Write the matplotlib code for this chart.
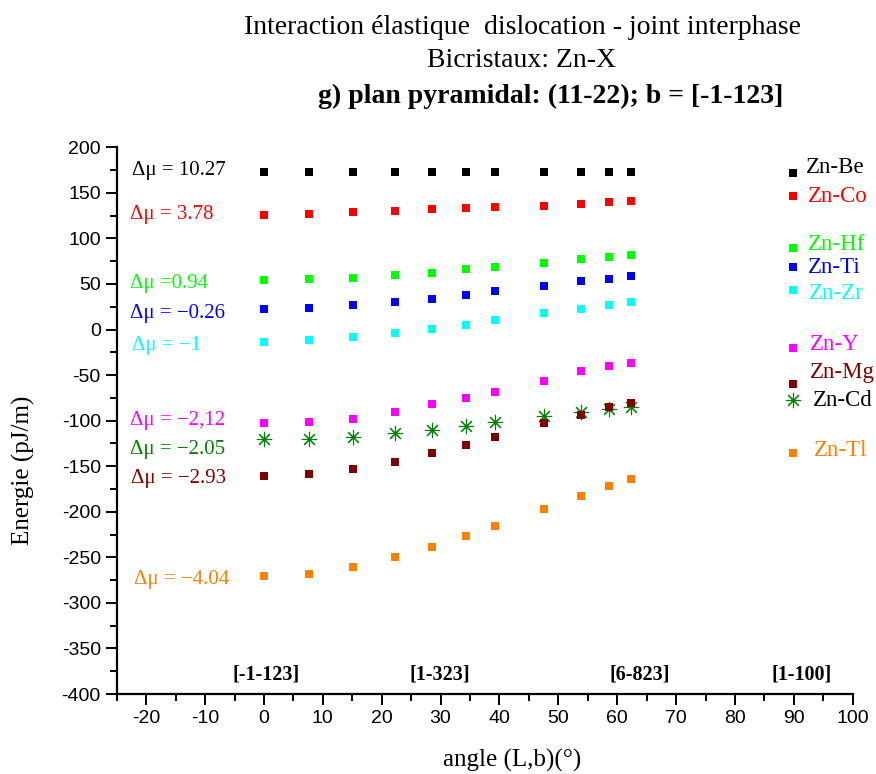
import matplotlib
matplotlib.use("Agg")
import matplotlib.pyplot as plt
from matplotlib.ticker import MultipleLocator

plt.rcParams["axes.unicode_minus"] = False

# Angle between dislocation line L and Burgers vector b (degrees)
angles = [0, 7.7, 15.2, 22.2, 28.6, 34.3, 39.3, 47.5, 53.8, 58.6, 62.4]

# Interaction energy (pJ/m) for each bicrystal Zn-X
zn_be = [173, 173, 173, 173, 173, 173, 173, 173, 173, 173, 173]
zn_co = [126, 127, 129, 130, 132, 133, 134, 136, 138, 140, 141]
zn_hf = [54, 55, 57, 60, 62.5, 66, 69, 73, 77, 80, 82]
zn_ti = [23, 24, 27, 30, 34, 38, 42, 48, 53, 56, 59]
zn_zr = [-14, -12, -8, -4, 1, 5.5, 10, 18, 23, 27, 30]
zn_y = [-103, -102, -98, -91, -82, -75, -68, -56, -46, -40, -37]
zn_cd = [-120.5, -120, -118, -114, -110, -106, -101, -95, -91, -87, -85]
zn_mg = [-161, -159, -153, -145.5, -136, -126.5, -118, -103, -93.5, -85.5, -80.5]
zn_tl = [-270, -268, -261, -250, -239, -227, -216, -197, -183, -171.5, -164.5]

series_names = ["Zn-Be", "Zn-Co", "Zn-Hf", "Zn-Ti", "Zn-Zr", "Zn-Y", "Zn-Mg", "Zn-Cd", "Zn-Tl"]
shear_labels = ["Δμ = 10.27", "Δμ = 3.78", "Δμ =0.94", "Δμ = −0.26", "Δμ = −1",
                "Δμ = −2,12", "Δμ = −2.93", "Δμ = −2.05", "Δμ = −4.04"]
direction_labels = ["[-1-123]", "[1-323]", "[6-823]", "[1-100]"]

SERIF = ["Liberation Serif", "DejaVu Serif"]
SANS = ["Liberation Sans", "DejaVu Sans"]

colors = {
    "Zn-Be": "#000000", "Zn-Co": "#ff0000", "Zn-Hf": "#00ff00", "Zn-Ti": "#0000ff",
    "Zn-Zr": "#00ffff", "Zn-Y": "#ff00ff", "Zn-Mg": "#800000", "Zn-Cd": "#008000",
    "Zn-Tl": "#ff8000",
}
values = {
    "Zn-Be": zn_be, "Zn-Co": zn_co, "Zn-Hf": zn_hf, "Zn-Ti": zn_ti, "Zn-Zr": zn_zr,
    "Zn-Y": zn_y, "Zn-Mg": zn_mg, "Zn-Cd": zn_cd, "Zn-Tl": zn_tl,
}

fig = plt.figure(figsize=(8.76, 7.74), dpi=100)
ax = fig.add_axes([0.1333, 0.1033, 0.8401, 0.7064])

asterisk = (8, 2, 0)
square_kw = dict(marker="s", markersize=5.6, markeredgewidth=0, linestyle="none")
star_kw = dict(marker=asterisk, markersize=11, markeredgewidth=0.8, linestyle="none")

for name in series_names:
    if name == "Zn-Cd":
        ax.plot(angles, values[name], color=colors[name], zorder=3, **star_kw)
    else:
        ax.plot(angles, values[name], color=colors[name], zorder=4 if name == "Zn-Mg" else 3,
                **square_kw)

# Axes styling
ax.set_xlim(-25, 100)
ax.set_ylim(-400, 200)
for side in ("top", "right"):
    ax.spines[side].set_visible(False)
for side in ("left", "bottom"):
    ax.spines[side].set_linewidth(1.6)
ax.xaxis.set_major_locator(MultipleLocator(10))
ax.xaxis.set_minor_locator(MultipleLocator(5))
ax.yaxis.set_major_locator(MultipleLocator(50))
ax.yaxis.set_minor_locator(MultipleLocator(25))
ax.tick_params(which="major", direction="out", length=8, width=1.4, labelsize=14)
ax.tick_params(which="minor", direction="out", length=5, width=1.4)
for lab in ax.get_xticklabels() + ax.get_yticklabels():
    lab.set_family(SANS)

fig.text(0.027, 0.392, "Energie (pJ/m)", rotation=90, ha="center", va="center",
         family=SERIF, fontsize=18)
fig.text(0.585, 0.018, "angle (L,b)(°)", ha="center", va="center",
         family=SERIF, fontsize=18)

# Titles
fig.text(0.596, 0.965, "Interaction élastique  dislocation - joint interphase",
         ha="center", va="center", family=SERIF, fontsize=20)
fig.text(0.595, 0.922, "Bicristaux: Zn-X", ha="center", va="center", family=SERIF, fontsize=20)
fig.text(0.629, 0.876, "g) plan pyramidal: (11-22); b = [-1-123]", ha="center", va="center",
         family=SERIF, fontsize=20, fontweight="bold")

# Shear modulus difference labels on the left
shear_pos = [174.5, 126.5, 51, 18, -17, -100, -163, -131.5, -274]
shear_x = [-22.4, -22.8, -22.8, -22.8, -22.4, -22.8, -22.6, -22.8, -22.0]
for name, txt, xx, yy in zip(series_names, shear_labels, shear_x, shear_pos):
    ax.text(xx, yy, txt, color=colors[name], ha="left", va="center",
            family=SERIF, fontsize=15)

# Crystallographic direction labels
dir_x = [0.3, 29.8, 63.8, 91.3]
for xx, txt in zip(dir_x, direction_labels):
    ax.text(xx, -379, txt, ha="center", va="center", family=SERIF,
            fontsize=14.5, fontweight="bold")

# Legend drawn as free markers + labels
leg_marker_y = [172, 147, 90, 69, 43, -20, -60, -77.5, -136]
leg_text_y = [178, 146.5, 93, 68.5, 40, -16.5, -47, -78, -132.5]
leg_text_x = [92.1, 92.4, 92.4, 92.4, 92.6, 92.8, 92.8, 93.3, 93.5]
for i, name in enumerate(series_names):
    kw = star_kw if name == "Zn-Cd" else square_kw
    ax.plot([89.9], [leg_marker_y[i]], color=colors[name], clip_on=False, **kw)
    tcolor = "#000000" if name == "Zn-Cd" else colors[name]
    ax.text(leg_text_x[i], leg_text_y[i], name, color=tcolor, ha="left", va="center",
            family=SERIF, fontsize=16.5)

fig.savefig("out.png", dpi=100)
